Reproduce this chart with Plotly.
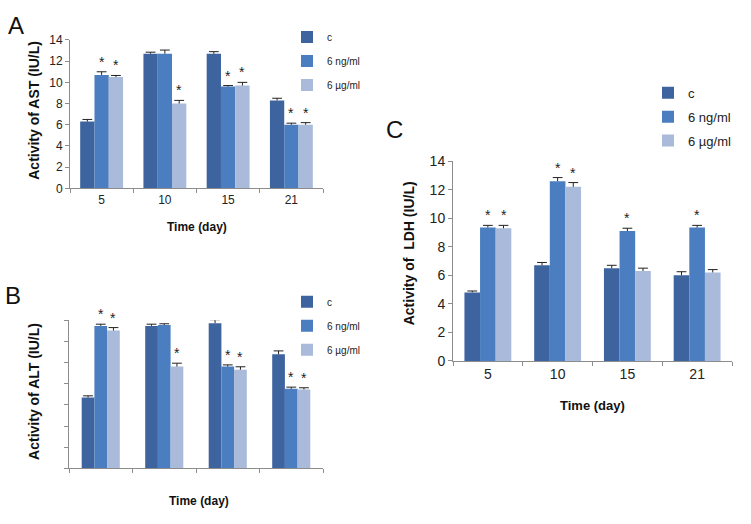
import plotly.graph_objects as go

days = ["5", "10", "15", "21"]
series = ["c", "6 ng/ml", "6 µg/ml"]

# Panel A: AST
ast_vals = [[6.3, 12.7, 12.7, 8.3], [10.7, 12.7, 9.6, 6.0], [10.5, 8.0, 9.7, 6.0]]
ast_err = [[0.2, 0.15, 0.2, 0.2], [0.3, 0.35, 0.1, 0.15], [0.15, 0.3, 0.3, 0.2]]
ast_sig = [[0, 0, 0, 0], [1, 0, 1, 1], [1, 1, 1, 1]]

# Panel B: ALT (no tick labels in source)
alt_vals = [[33.5, 67.3, 68.6, 53.9], [67.3, 67.7, 48.1, 37.6], [65.1, 48.1, 46.6, 37.3]]
alt_err = [[0.8, 0.8, 1.6, 1.6], [0.8, 0.6, 0.8, 0.8], [1.4, 1.6, 1.4, 0.8]]
alt_sig = [[0, 0, 0, 0], [1, 0, 1, 1], [1, 1, 1, 1]]

# Panel C: LDH
ldh_vals = [[4.8, 6.7, 6.5, 6.0], [9.35, 12.6, 9.1, 9.35], [9.3, 12.2, 6.3, 6.2]]
ldh_err = [[0.1, 0.2, 0.2, 0.25], [0.15, 0.25, 0.2, 0.15], [0.2, 0.3, 0.2, 0.2]]
ldh_sig = [[0, 0, 0, 0], [1, 1, 1, 1], [1, 1, 0, 0]]

colors = ["#3E64A0", "#4A7EC0", "#A9BADB"]
ERR = "#222222"
FONT = "Liberation Sans"
W, H = 751, 524

fig = go.Figure()

panels = [
    dict(vals=ast_vals, err=ast_err, sig=ast_sig, xa="x", ya="y", legend="legend", bw=0.226),
    dict(vals=alt_vals, err=alt_err, sig=alt_sig, xa="x2", ya="y2", legend="legend2", bw=0.2),
    dict(vals=ldh_vals, err=ldh_err, sig=ldh_sig, xa="x3", ya="y3", legend="legend3", bw=0.224),
]

pos = list(range(len(days)))
annotations = []
for p in panels:
    bw = p["bw"]
    for k, name in enumerate(series):
        vals, errs = p["vals"][k], p["err"][k]
        fig.add_trace(go.Bar(
            x=pos, y=vals, name=name,
            xaxis=p["xa"], yaxis=p["ya"],
            legend=p["legend"], legendgroup=p["legend"] + name,
            marker=dict(color=colors[k], line=dict(width=0)),
            width=bw, offset=(k - 1.5) * bw,
            error_y=dict(type="data", array=errs, arrayminus=[0] * len(errs),
                         symmetric=False, color=ERR, thickness=1, width=0),
        ))
        # error bar caps (top only)
        fig.add_trace(go.Scatter(
            x=[i + (k - 1) * bw for i in pos], y=[v + e for v, e in zip(vals, errs)],
            xaxis=p["xa"], yaxis=p["ya"], mode="markers", showlegend=False,
            hoverinfo="skip",
            marker=dict(symbol="line-ew", size=7, line=dict(width=1, color=ERR)),
        ))
        for i in pos:
            if p["sig"][k][i]:
                annotations.append(dict(
                    x=i + (k - 1) * bw, y=vals[i] + errs[i],
                    xref=p["xa"], yref=p["ya"], text="*", showarrow=False,
                    yanchor="bottom", yshift=0,
                    font=dict(family=FONT, size=14, color=ERR)))


def px(x):
    return x / W


def py(y):
    return 1 - y / H


def yaxis_style(fs):
    return dict(showline=True, linecolor="#8C8C8C", linewidth=1, showgrid=False,
                zeroline=False, ticks="outside", tickcolor="#8C8C8C", ticklen=4,
                tickfont=dict(family=FONT, size=fs, color="#222222"))


def xaxis_style(fs, labels=True):
    return dict(showline=True, linecolor="#8C8C8C", linewidth=1, showgrid=False,
                zeroline=False, range=[-0.5, len(days) - 0.5],
                tickmode="array", tickvals=pos, ticktext=days, ticks="",
                showticklabels=labels,
                tickfont=dict(family=FONT, size=fs, color="#222222"),
                minor=dict(tickmode="array", tickvals=[i - 0.5 for i in range(len(days) + 1)],
                           ticks="outside", ticklen=4, tickcolor="#8C8C8C", showgrid=False))


fig.update_layout(
    width=W, height=H, autosize=False,
    margin=dict(l=0, r=0, t=0, b=0),
    paper_bgcolor="white", plot_bgcolor="white",
    barmode="overlay", showlegend=True,
    xaxis=dict(domain=[px(70), px(323)], anchor="y", **xaxis_style(12)),
    yaxis=dict(domain=[py(186), py(33)], anchor="x", range=[0, 14], dtick=2, **yaxis_style(12)),
    xaxis2=dict(domain=[px(69), px(323)], anchor="y2", **xaxis_style(12, False)),
    yaxis2=dict(domain=[py(475), py(322)], anchor="x2", range=[0, 70], dtick=10,
                showticklabels=False, **yaxis_style(12)),
    xaxis3=dict(domain=[px(453), px(732)], anchor="y3", **xaxis_style(14)),
    yaxis3=dict(domain=[py(364), py(158)], anchor="x3", range=[0, 14], dtick=2, **yaxis_style(14)),
)


def leg_style(fs, gap):
    return dict(font=dict(family=FONT, size=fs, color="#222222"), bgcolor="rgba(0,0,0,0)",
                tracegroupgap=gap, xanchor="left", yanchor="top", itemwidth=30)


fig.update_layout(
    legend=dict(x=px(287), y=py(15), **leg_style(10, 5)),
    legend2=dict(x=px(287), y=py(288), **leg_style(10, 5)),
    legend3=dict(x=px(648), y=py(72), **leg_style(13, 4)),
)

titles = [
    ("Time (day)", px(197), py(226), 0, 12),
    ("Activity of AST (IU/L)", px(34), py(106), -90, 14),
    ("Time (day)", px(199), py(509), 0, 12),
    ("Activity of ALT (IU/L)", px(34), py(396), -90, 14),
    ("Time (day)", px(592), py(410), 0, 13),
    ("Activity of  LDH (IU/L)", px(409), py(253), -90, 14),
]
for t, x, y, ang, fs in titles:
    annotations.append(dict(text="<b>%s</b>" % t, x=x, y=y, xref="paper", yref="paper",
                            showarrow=False, textangle=ang, xanchor="center", yanchor="middle",
                            font=dict(family=FONT, size=fs, color="#111111")))

for t, x, y in [("A", px(16), py(18)), ("B", px(13), py(297)), ("C", px(394), py(125))]:
    annotations.append(dict(text=t, x=x, y=y, xref="paper", yref="paper", showarrow=False,
                            xanchor="center", yanchor="middle",
                            font=dict(family=FONT, size=24, color="#111111")))

fig.update_layout(annotations=annotations)
fig.write_html("out.html", config={"displayModeBar": False},
               post_script="document.body.style.margin='0';")
